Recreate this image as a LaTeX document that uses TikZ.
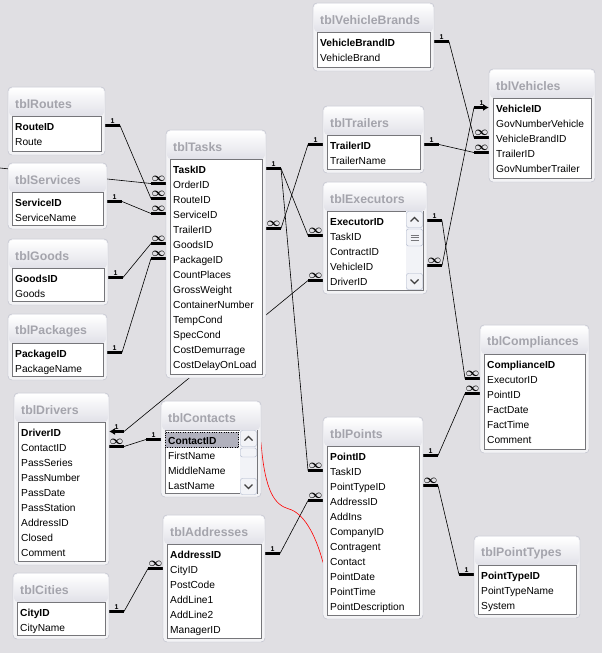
\documentclass[tikz,border=0pt]{standalone}
\usepackage{fontspec}
\setmainfont{Liberation Sans}
\usetikzlibrary{positioning,calc,backgrounds,arrows.meta}

\definecolor{bgcanvas}{HTML}{E0DFE3}
\definecolor{frameline}{HTML}{B8BAC8}
\definecolor{framebody}{HTML}{F3F3F5}
\definecolor{titlebot}{HTML}{E1E1E8}
\definecolor{titletext}{HTML}{A4A4AC}
\definecolor{innerline}{HTML}{76767A}
\definecolor{rowsel}{HTML}{B1B1BD}
\definecolor{sbline}{HTML}{A9B2C8}
\definecolor{sbface}{HTML}{F2F3F7}

\tikzset{
  tblframe/.style={draw=frameline, fill=framebody, rounded corners=4pt, anchor=north west, inner sep=0pt, outer sep=0pt},
  tbltitle/.style={anchor=west, inner sep=0pt, text=titletext, font=\fontsize{12.3}{12}\selectfont\bfseries},
  tblinner/.style={draw=innerline, fill=white, line width=1pt},
  field/.style={anchor=base west, inner sep=0pt, font=\fontsize{10.2}{12}\selectfont},
  stub/.style={line width=3pt},
  card/.style={above, inner sep=1pt, font=\fontsize{7}{7}\selectfont\bfseries},
  intotable/.style={{Latex[length=6pt,width=7pt]}-},
  link/.style={line width=0.6pt},
  redlink/.style={red, line width=0.6pt},
  sbbutton/.style={draw=sbline, fill=sbface, rounded corners=2pt},
  sbchevron/.style={line width=1.2pt, draw=black!75}
}

\newcommand{\infmark}{{\fontsize{12.5}{12}\selectfont\boldmath$\infty$}}

% table: [extra], name, x, y, width, height, title, fields
\newcommand{\dbtable}[8][]{%
  \node[tblframe, minimum width=#5pt, minimum height=#6pt] (#2) at (#3,#4) {};
  \shade[top color=white, bottom color=titlebot, rounded corners=4pt] (#3+1,#4+1) rectangle (#3+#5-1,#4+29);
  \node[tbltitle] at (#3+7,#4+17) {#7};
  \draw[tblinner] (#3+4,#4+29) rectangle (#3+#5-4,#4+#6-4);
  #1
  \foreach \f [count=\i] in {#8}
    \node[field] (#2-\f) at (#3+7,#4+28.5+15*\i) {\ifnum\i=1 \bfseries\fi\f};
}

% stubs at the table edge
\newcommand{\stubR}[4][]{%
  \draw[stub,#1] ($(#2.east |- #2-#3.base)+(0,-5)$) -- node[card]{#4} ++(15,0) coordinate (#2-#3-r);
}
\newcommand{\stubL}[4][]{%
  \draw[stub,#1] ($(#2.west |- #2-#3.base)+(0,-5)$) -- node[card]{#4} ++(-15,0) coordinate (#2-#3-l);
}

% scroll bar: x, top, bottom, thumb top, thumb bottom
\newcommand{\scrollbar}[5]{%
  \fill[sbface] (#1,#2) rectangle (#1+17,#3);
  \draw[sbbutton] (#1+0.5,#2+0.5) rectangle (#1+16.5,#2+16.5);
  \draw[sbbutton] (#1+0.5,#4) rectangle (#1+16.5,#5);
  \draw[sbbutton] (#1+0.5,#3-16.5) rectangle (#1+16.5,#3-0.5);
  \draw[sbchevron] (#1+4.5,#2+10.5) -- (#1+8.5,#2+6.5) -- (#1+12.5,#2+10.5);
  \draw[sbchevron] (#1+4.5,#3-10.5) -- (#1+8.5,#3-6.5) -- (#1+12.5,#3-10.5);
}

\begin{document}
\begin{tikzpicture}[x=1pt, y=-1pt]
\useasboundingbox (0,0) rectangle (602,653);

% left column
\dbtable{routes}{8}{87}{97}{68}{tblRoutes}{RouteID,Route}
\dbtable{services}{8}{163}{99}{66}{tblServices}{ServiceID,ServiceName}
\dbtable{goods}{8}{239}{100}{66}{tblGoods}{GoodsID,Goods}
\dbtable{packages}{8}{314}{99}{66}{tblPackages}{PackageID,PackageName}
\dbtable{drivers}{14}{393}{95}{172}{tblDrivers}{DriverID,ContactID,PassSeries,PassNumber,PassDate,PassStation,AddressID,Closed,Comment}
\dbtable{cities}{13}{573}{96}{66}{tblCities}{CityID,CityName}

% middle
\dbtable{tasks}{166}{130}{100}{248}{tblTasks}{TaskID,OrderID,RouteID,ServiceID,TrailerID,GoodsID,PackageID,CountPlaces,GrossWeight,ContainerNumber,TempCond,SpecCond,CostDemurrage,CostDelayOnLoad}
\dbtable[{\fill[rowsel] (165,432) rectangle (239,448);
  \draw[dotted] (165.5,432.5) rectangle (238.5,447.5);}]{contacts}{161}{401}{100}{96}{tblContacts}{ContactID,FirstName,MiddleName,LastName}
\dbtable{addresses}{163}{515}{102}{127}{tblAddresses}{AddressID,CityID,PostCode,AddLine1,AddLine2,ManagerID}

% right
\dbtable{vehiclebrands}{313}{3}{121}{68}{tblVehicleBrands}{VehicleBrandID,VehicleBrand}
\dbtable{trailers}{323}{106}{101}{67}{tblTrailers}{TrailerID,TrailerName}
\dbtable{executors}{323}{182}{104}{112}{tblExecutors}{ExecutorID,TaskID,ContractID,VehicleID,DriverID}
\dbtable{points}{323}{417}{100}{202}{tblPoints}{PointID,TaskID,PointTypeID,AddressID,AddIns,CompanyID,Contragent,Contact,PointDate,PointTime,PointDescription}
\dbtable{vehicles}{489}{69}{106}{113}{tblVehicles}{VehicleID,GovNumberVehicle,VehicleBrandID,TrailerID,GovNumberTrailer}
\dbtable{compliances}{480}{325}{109}{128}{tblCompliances}{ComplianceID,ExecutorID,PointID,FactDate,FactTime,Comment}
\dbtable{pointtypes}{474}{536}{106}{82}{tblPointTypes}{PointTypeID,PointTypeName,System}

% scroll bars
\scrollbar{406}{211}{290}{229}{246}
\foreach \g in {-2.5,0,2.5}
  \draw[innerline, line width=0.5pt] (410.5,237.5+\g) -- (418.5,237.5+\g);
\scrollbar{240}{430}{495}{448}{457}

\begin{scope}[on background layer]
\fill[bgcanvas] (0,0) rectangle (602,653);

% stubs
\stubR{routes}{RouteID}{1}
\stubR{services}{ServiceID}{1}
\stubR{goods}{GoodsID}{1}
\stubR{packages}{PackageID}{1}
\stubL{tasks}{OrderID}{\infmark}
\stubL{tasks}{RouteID}{\infmark}
\stubL{tasks}{ServiceID}{\infmark}
\stubL{tasks}{GoodsID}{\infmark}
\stubL{tasks}{PackageID}{\infmark}
\stubR{tasks}{TaskID}{1}
\stubR{tasks}{TrailerID}{\infmark}
\stubL{trailers}{TrailerID}{1}
\stubR{trailers}{TrailerID}{1}
\stubL{executors}{TaskID}{\infmark}
\stubL{executors}{DriverID}{\infmark}
\stubR{executors}{ExecutorID}{1}
\stubR{executors}{VehicleID}{\infmark}
\stubR{vehiclebrands}{VehicleBrandID}{1}
\stubL[intotable]{vehicles}{VehicleID}{1}
\stubL{vehicles}{VehicleBrandID}{\infmark}
\stubL{vehicles}{TrailerID}{\infmark}
\stubR[intotable]{drivers}{DriverID}{1}
\stubR{drivers}{ContactID}{\infmark}
\stubL{contacts}{ContactID}{1}
\stubL{points}{TaskID}{\infmark}
\stubL{points}{AddressID}{\infmark}
\stubR{points}{PointID}{1}
\stubR{points}{PointTypeID}{\infmark}
\stubL{compliances}{ExecutorID}{\infmark}
\stubL{compliances}{PointID}{\infmark}
\stubL{pointtypes}{PointTypeID}{1}
\stubR{addresses}{AddressID}{1}
\stubL{addresses}{CityID}{\infmark}
\stubR{cities}{CityID}{1}

% links
\coordinate (orders) at (0,168);
\draw[link] (orders) -- (tasks-OrderID-l);
\draw[link] (routes-RouteID-r) -- (tasks-RouteID-l);
\draw[link] (services-ServiceID-r) -- (tasks-ServiceID-l);
\draw[link] (goods-GoodsID-r) -- (tasks-GoodsID-l);
\draw[link] (packages-PackageID-r) -- (tasks-PackageID-l);
\draw[link] (tasks-TaskID-r) -- (executors-TaskID-l);
\draw[link] (tasks-TaskID-r) -- (points-TaskID-l);
\draw[link] (trailers-TrailerID-l) -- (tasks-TrailerID-r);
\draw[link] (drivers-DriverID-r) -- (executors-DriverID-l);
\draw[link] (contacts-ContactID-l) -- (drivers-ContactID-r);
\draw[link] (vehiclebrands-VehicleBrandID-r) -- (vehicles-VehicleBrandID-l);
\draw[link] (trailers-TrailerID-r) -- (vehicles-TrailerID-l);
\draw[link] (vehicles-VehicleID-l) -- (executors-VehicleID-r);
\draw[link] (executors-ExecutorID-r) -- (compliances-ExecutorID-l);
\draw[link] (points-PointID-r) -- (compliances-PointID-l);
\draw[link] (pointtypes-PointTypeID-l) -- (points-PointTypeID-r);
\draw[link] (addresses-AddressID-r) -- (points-AddressID-l);
\draw[link] (cities-CityID-r) -- (addresses-CityID-l);
\draw[redlink] ($(contacts.east |- contacts-ContactID.base)+(0,-2)$)
  .. controls +(4,50) and +(-14,-4) .. (289,509)
  .. controls +(14,4) and +(-8,-30) .. ($(points.west |- points-Contact.base)+(0,-3)$);
\end{scope}
\end{tikzpicture}
\end{document}
